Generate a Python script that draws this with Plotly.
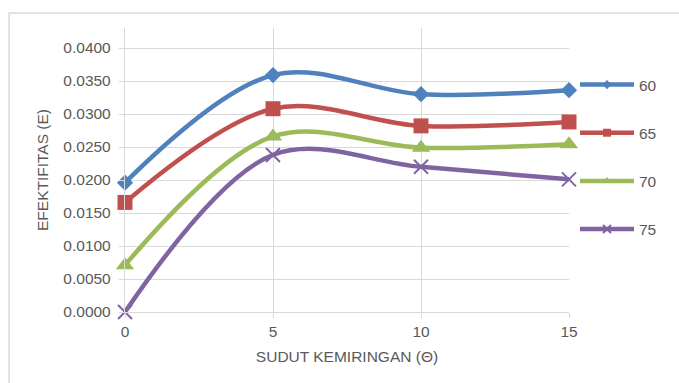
import plotly.graph_objects as go

# Tilt angle (degrees) on the x axis
sudut = [0, 5, 10, 15]

# Effectiveness for each series
series_names = ["60", "65", "70", "75"]
eff_60 = [0.0196, 0.0359, 0.0330, 0.0336]
eff_65 = [0.0166, 0.0308, 0.0282, 0.0288]
eff_70 = [0.0071, 0.0266, 0.0249, 0.0254]
eff_75 = [0.0000, 0.0238, 0.0220, 0.0201]

y_ticks = [0.0, 0.005, 0.010, 0.015, 0.020, 0.025, 0.030, 0.035, 0.040]

colors = ["#4F81BD", "#C0504D", "#9BBB59", "#8064A2"]
symbols = ["diamond", "square", "triangle-up", "x-thin"]
sizes = [12.5, 15, 16, 14]
legend_sizes = [7, 8, 8, 8]

FONT = "Liberation Sans, Arial, sans-serif"
TXT = "#595959"
GRID = "#D9D9D9"

W, H = 679, 383
ML, MR, MT, MB = 125, 110, 28, 71
PW, PH = W - ML - MR, H - MT - MB

fig = go.Figure()

for i, (name, vals) in enumerate(zip(series_names, [eff_60, eff_65, eff_70, eff_75])):
    is_x = symbols[i] == "x-thin"
    marker = dict(symbol=symbols[i], size=sizes[i], color=colors[i],
                  line=dict(width=2 if is_x else 0, color=colors[i]))
    fig.add_trace(go.Scatter(
        x=sudut, y=vals, mode="lines+markers", name=name,
        line=dict(color=colors[i], width=4.5, shape="spline", smoothing=1),
        marker=marker, showlegend=False, cliponaxis=False,
    ))
    # legend key with a smaller marker
    lmarker = dict(symbol=symbols[i], size=legend_sizes[i], color=colors[i],
                   line=dict(width=2 if is_x else 0, color=colors[i]))
    fig.add_trace(go.Scatter(
        x=[None], y=[None], mode="lines+markers", name=name,
        line=dict(color=colors[i], width=4.5), marker=lmarker,
        legendgroup=name, showlegend=True,
    ))

ymax = 0.04 * PH / (312 - 48)

def px_x(p):
    return (p - ML) / PW

def px_y(p):
    return (H - MB - p) / PH

# outer chart border
fig.add_shape(type="rect", xref="paper", yref="paper",
              x0=px_x(9), x1=px_x(W + 10), y0=px_y(H + 10), y1=px_y(13),
              line=dict(color=GRID, width=1.5), fillcolor="rgba(0,0,0,0)", layer="below")

fig.update_layout(
    width=W, height=H,
    margin=dict(l=ML, r=MR, t=MT, b=MB),
    paper_bgcolor="white", plot_bgcolor="white",
    font=dict(family=FONT, size=15.5, color=TXT),
    xaxis=dict(
        range=[0, 15], tickvals=sudut, ticktext=[str(v) for v in sudut],
        showgrid=True, gridcolor=GRID, gridwidth=1.3,
        showline=True, linecolor=GRID, linewidth=1.3,
        ticks="outside", ticklen=5, tickcolor=GRID, tickwidth=1.3,
        zeroline=False,
        title=dict(text="SUDUT KEMIRINGAN (Θ)", font=dict(size=15.5, color=TXT), standoff=12),
        tickfont=dict(size=15.5, color=TXT),
    ),
    yaxis=dict(
        range=[0, ymax], tickvals=y_ticks, ticktext=[f"{v:.4f}" for v in y_ticks],
        showgrid=True, gridcolor=GRID, gridwidth=1.3,
        showline=True, linecolor=GRID, linewidth=1.3,
        ticks="outside", ticklen=5, tickcolor=GRID, tickwidth=1.3,
        ticklabelstandoff=5,
        zeroline=False,
        title=dict(text="EFEKTIFITAS (E)", font=dict(size=15.5, color=TXT), standoff=10),
        tickfont=dict(size=15.5, color=TXT),
    ),
    legend=dict(
        x=px_x(575), y=px_y(68), xanchor="left", yanchor="top",
        bgcolor="rgba(0,0,0,0)", borderwidth=0,
        font=dict(size=15.5, color=TXT),
        tracegroupgap=25, itemwidth=54,
    ),
)

fig.write_html("out.html")
